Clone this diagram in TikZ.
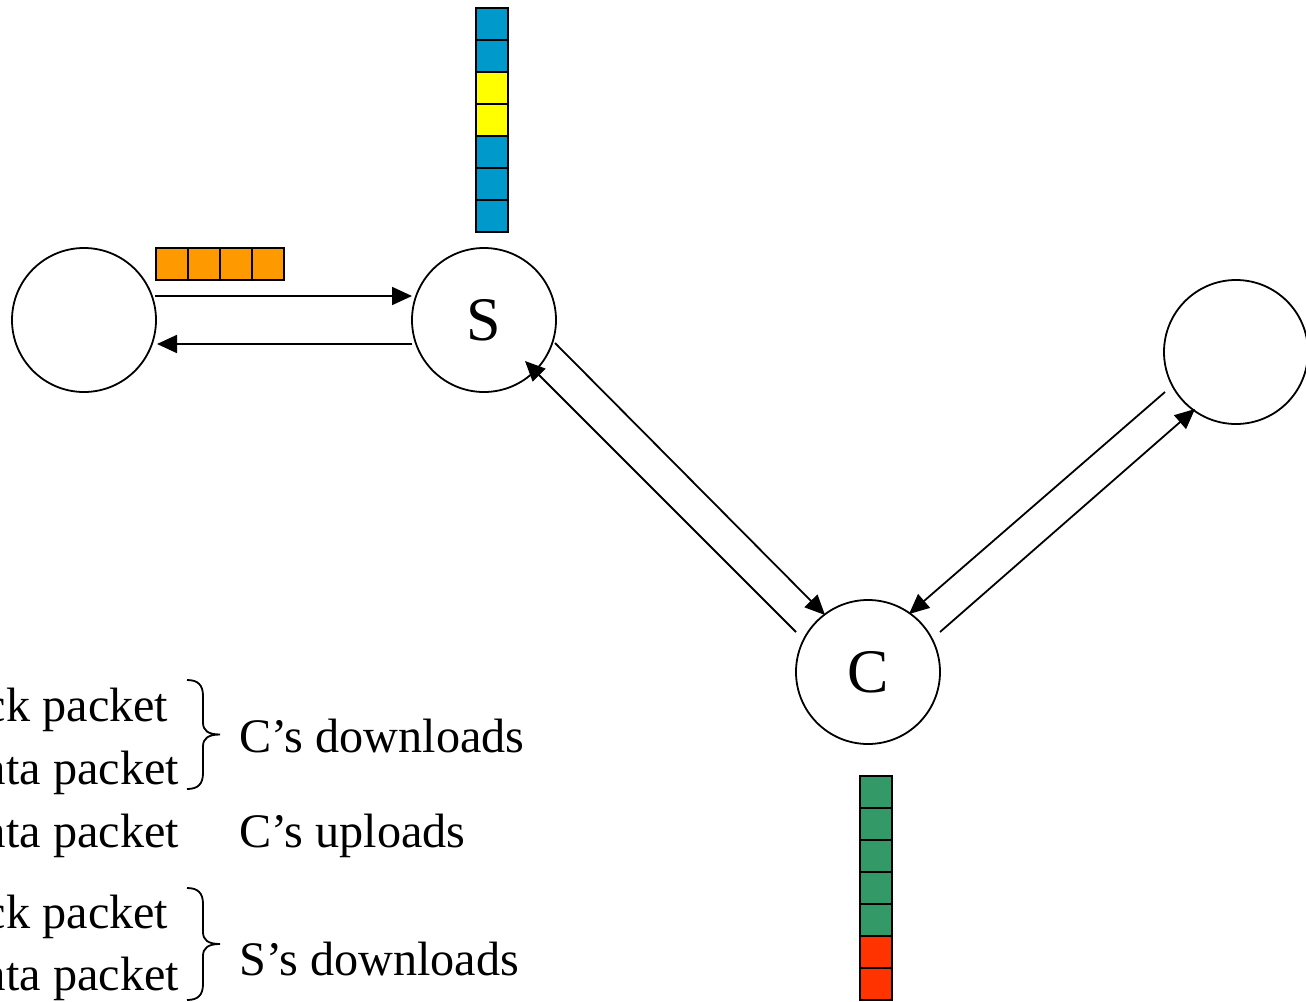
\documentclass[tikz,border=0pt]{standalone}
\usepackage{fontspec}
\setmainfont{Liberation Serif}
\usetikzlibrary{arrows.meta,calc}
\definecolor{pktorange}{HTML}{FF9900}
\definecolor{pktblue}{HTML}{0099CC}
\definecolor{pktyellow}{HTML}{FFFF00}
\definecolor{pktgreen}{HTML}{339966}
\definecolor{pktred}{HTML}{FF3300}
\begin{document}
\begin{tikzpicture}[x=1pt,y=-1pt,
  host/.style={circle,draw,line width=1.8pt,minimum size=144pt,inner sep=0pt,font=\fontsize{62}{72}\selectfont},
  link/.style={line width=1.8pt,-{Triangle[length=20pt,width=18pt]}},
  cell/.style={draw,line width=2.2pt,minimum size=32pt,inner sep=0pt},
  lbl/.style={anchor=base west,inner sep=0pt,font=\fontsize{48.2}{58}\selectfont},
  brc/.style={line width=1.8pt}]
\useasboundingbox (0,0) rectangle (1306,1001);
\clip (0,0) rectangle (1306,1001);
% hosts
\node[host] (L) at (84,320) {};
\node[host] (S) at (484,320) {S};
\node[host] (R) at (1236,352) {};
\node[host] (C) at (868,672) {C};
% connectors
\draw[link] ($(L)+(71,-24)$) -- ($(S)+(-72,-24)$);
\draw[link] ($(S)+(-72,24)$) -- ($(L)+(73,24)$);
\draw[link] ($(S)+(71,23)$) -- ($(C)+(-43,-57)$);
\draw[link] ($(C)+(-72,-40)$) -- ($(S)+(41,41)$);
\draw[link] ($(R)+(-71,40)$) -- ($(C)+(41,-58)$);
\draw[link] ($(C)+(72,-40)$) -- ($(R)+(-41,57)$);
% orange packets
\foreach \i in {0,...,3} \node[cell,fill=pktorange] (o\i) at (172+32*\i,264) {};
% blue / yellow column
\foreach \i/\c in {0/pktblue,1/pktblue,2/pktyellow,3/pktyellow,4/pktblue,5/pktblue,6/pktblue}
  \node[cell,fill=\c] (b\i) at (492,24+32*\i) {};
% green / red column
\foreach \i/\c in {0/pktgreen,1/pktgreen,2/pktgreen,3/pktgreen,4/pktgreen,5/pktred,6/pktred}
  \node[cell,fill=\c] (g\i) at (876,792+32*\i) {};
% legend
\node[lbl] (t1) at (-50,721) {Ack packet};
\node[lbl] (t2) at (-50,784) {Data packet};
\node[lbl] (t3) at (-50,847) {Data packet};
\node[lbl] (t4) at (-50,928) {Ack packet};
\node[lbl] (t5) at (-50,990) {Data packet};
% braces
\foreach \ya/\yb in {680/789,888/1000}{
  \pgfmathsetmacro{\ym}{(\ya+\yb)/2}
  \draw[brc] (187,\ya) .. controls (198,\ya) and (203,\ya+5) .. (203,\ya+16)
    -- (203,\ym-12) .. controls (203,\ym-4) and (208,\ym) .. (220,\ym)
    .. controls (208,\ym) and (203,\ym+4) .. (203,\ym+12)
    -- (203,\yb-16) .. controls (203,\yb-5) and (198,\yb) .. (187,\yb);
}
\node[lbl] (d1) at (239,752) {C’s downloads};
\node[lbl] (u1) at (239,847) {C’s uploads};
\node[lbl] (d2) at (239,975) {S’s downloads};
\end{tikzpicture}
\end{document}
